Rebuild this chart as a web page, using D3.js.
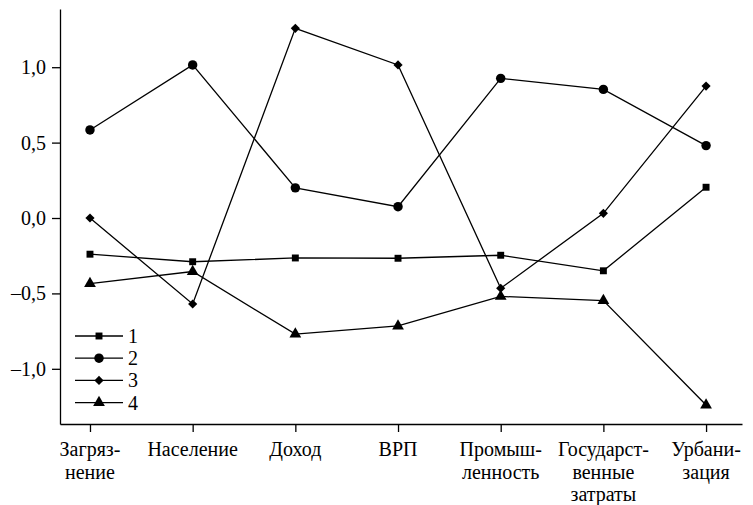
<!DOCTYPE html>
<html>
<head>
<meta charset="utf-8">
<script src="https://cdn.jsdelivr.net/npm/d3@7"></script>
</head>
<body style="margin:0">
<svg width="753" height="505"></svg>
<script>
// categories (multi-line labels)
const categories = [
  ["Загряз-", "нение"],
  ["Население"],
  ["Доход"],
  ["ВРП"],
  ["Промыш-", "ленность"],
  ["Государст-", "венные", "затраты"],
  ["Урбани-", "зация"]
];

// series values
const series1 = [-0.24, -0.29, -0.265, -0.267, -0.247, -0.35, 0.204];
const series2 = [0.584, 1.015, 0.20, 0.075, 0.926, 0.853, 0.48];
const series3 = [0.0, -0.57, 1.258, 1.015, -0.466, 0.031, 0.875];
const series4 = [-0.435, -0.355, -0.77, -0.716, -0.52, -0.548, -1.24];

const seriesNames = ["1", "2", "3", "4"];
const yTicks = [-1.0, -0.5, 0.0, 0.5, 1.0];

const FONT = "Times New Roman";
const FS = 20;

const svg = d3.select("svg");

const x = d3.scaleLinear().domain([-0.292, 6.35]).range([60, 742]);
const y = d3.scaleLinear().domain([-1.366, 1.386]).range([424, 9]);

const fmt = (d) => d3.format(".1f")(d).replace(".", ",").replace(/[-\u2212]/, "\u2013");

// y axis, labels drawn as plain texts
const yAxis = d3.axisLeft(y).tickValues(yTicks).tickSize(8).tickSizeOuter(0).tickFormat("");
svg.append("g").attr("transform", "translate(60,0)").call(yAxis);

// x axis
const xAxis = d3.axisBottom(x).tickValues(d3.range(categories.length))
  .tickSize(8).tickSizeOuter(0).tickFormat("");
svg.append("g").attr("transform", "translate(0,424)").call(xAxis);

svg.selectAll(".domain, .tick line").attr("stroke", "#000").attr("stroke-width", 1.3);
svg.selectAll(".tick text").remove();

yTicks.forEach((v) => {
  svg.append("text")
    .attr("x", 46)
    .attr("y", y(v) + 7)
    .attr("text-anchor", "end")
    .attr("font-family", FONT)
    .attr("font-size", FS)
    .text(fmt(v));
});

// multi-line category labels
categories.forEach((lines, i) => {
  lines.forEach((ln, j) => {
    svg.append("text")
      .attr("x", x(i))
      .attr("y", 456 + j * 22.5)
      .attr("text-anchor", "middle")
      .attr("font-family", FONT)
      .attr("font-size", FS)
      .text(ln);
  });
});

// markers
const symbols = [d3.symbolSquare, d3.symbolCircle, d3.symbolSquare, d3.symbolTriangle];
const symSizes = [48, 70, 42, 60];
const symRot = [0, 0, 45, 0];
const allSeries = [series1, series2, series3, series4];

const line = d3.line().x((d, i) => x(i)).y((d) => y(d));

allSeries.forEach((s, k) => {
  svg.append("path")
    .datum(s)
    .attr("d", line)
    .attr("fill", "none")
    .attr("stroke", "#000")
    .attr("stroke-width", 1.3);

  svg.selectAll(".m" + k)
    .data(s)
    .enter()
    .append("path")
    .attr("class", "m" + k)
    .attr("d", d3.symbol().type(symbols[k]).size(symSizes[k]))
    .attr("transform", (d, i) => `translate(${x(i)},${y(d)}) rotate(${symRot[k]})`)
    .attr("fill", "#000");
});

// legend
const legend = svg.append("g").attr("transform", "translate(75,336)");
seriesNames.forEach((name, k) => {
  const g = legend.append("g").attr("transform", `translate(0,${k * 22.2})`);
  g.append("line").attr("x1", 0).attr("x2", 48).attr("y1", 0).attr("y2", 0)
    .attr("stroke", "#000").attr("stroke-width", 1.3);
  g.append("path").attr("d", d3.symbol().type(symbols[k]).size(symSizes[k]))
    .attr("transform", `translate(24,0) rotate(${symRot[k]})`).attr("fill", "#000");
  g.append("text").attr("x", 53).attr("y", 7)
    .attr("font-family", FONT).attr("font-size", FS).text(name);
});
</script>
</body>
</html>
